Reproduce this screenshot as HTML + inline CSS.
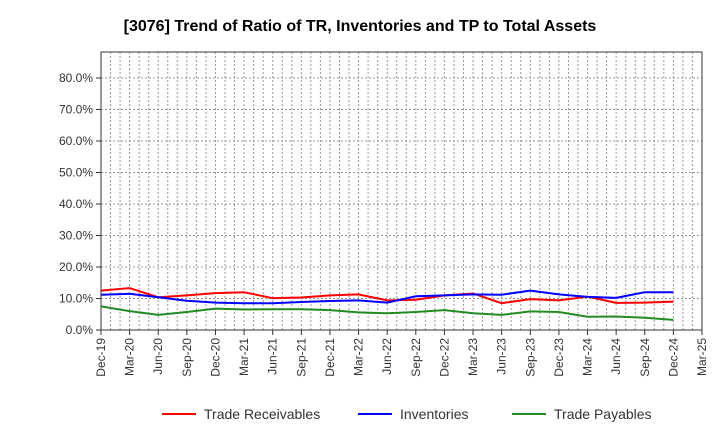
<!DOCTYPE html>
<html><head><meta charset="utf-8"><style>
body{margin:0;background:#fff;font-family:"Liberation Sans",sans-serif;}
</style></head><body>
<svg id="c" width="720" height="440" xmlns="http://www.w3.org/2000/svg">
<text x="360" y="31" text-anchor="middle" font-size="16" font-weight="bold" fill="#000">[3076]  Trend of Ratio of TR, Inventories and TP to Total Assets</text>
<g id="grid"></g><g id="axes"></g><g id="series"></g><g id="legend"></g>
</svg>
<script>
const xLabels=["Dec-19","Mar-20","Jun-20","Sep-20","Dec-20","Mar-21","Jun-21","Sep-21","Dec-21","Mar-22","Jun-22","Sep-22","Dec-22","Mar-23","Jun-23","Sep-23","Dec-23","Mar-24","Jun-24","Sep-24","Dec-24","Mar-25"];
const yTicks=[0,10,20,30,40,50,60,70,80];
const receivables=[12.5,13.3,10.4,11.0,11.7,12.0,10.1,10.3,11.0,11.3,9.4,9.6,11.0,11.6,8.5,9.8,9.4,10.6,8.6,8.7,9.0];
const inventories=[11.2,11.5,10.4,9.3,8.7,8.5,8.5,8.9,9.2,9.4,8.7,10.7,11.0,11.3,11.2,12.5,11.3,10.5,10.2,12.0,12.0];
const payables=[7.5,6.0,4.8,5.7,6.8,6.5,6.6,6.6,6.3,5.6,5.3,5.7,6.3,5.3,4.8,5.9,5.7,4.2,4.3,3.9,3.2];
const NS="http://www.w3.org/2000/svg";
const L=101,R=702,T=52,B=330,yMax=88.25;
const xs=i=>L+(R-L)*i/(xLabels.length-1);
const ys=v=>B-(B-T)*v/yMax;
function mk(tag,attrs,parent){const e=document.createElementNS(NS,tag);for(const k in attrs)e.setAttribute(k,attrs[k]);parent.appendChild(e);return e;}
const grid=document.getElementById('grid'),axes=document.getElementById('axes'),ser=document.getElementById('series'),leg=document.getElementById('legend');
for(let m=1;m<(xLabels.length-1)*3;m++){const x=L+(R-L)*m/((xLabels.length-1)*3);
 const g=mk('line',{x1:x,x2:x,y1:T,y2:B,stroke:'#999','stroke-dasharray':'2,2','stroke-width':1},grid);
 }
yTicks.forEach(v=>{const y=ys(v);
 if(v>0){const g=mk('line',{x1:L,x2:R,y1:y,y2:y,stroke:'#999','stroke-dasharray':'2,2'},grid);
 }
 mk('line',{x1:L-5,x2:L,y1:y,y2:y,stroke:'#333'},axes);
 const t=mk('text',{x:L-8,y:y+4,'text-anchor':'end','font-size':12,fill:'#333'},axes);t.textContent=v.toFixed(1)+'%';
 });
const fr=mk('rect',{x:L,y:T,width:R-L,height:B-T,fill:'none',stroke:'#333'},axes);

xLabels.forEach((s,i)=>{const x=xs(i);mk('line',{x1:x,x2:x,y1:B,y2:B+5,stroke:'#333'},axes);
 const t=mk('text',{x:x+4,y:B+8,'text-anchor':'end','font-size':12,fill:'#333',transform:`rotate(-90 ${x+4} ${B+8})`},axes);t.textContent=s;
 });
const S=[["Trade Receivables",receivables,"#ff0000"],["Inventories",inventories,"#0000ff"],["Trade Payables",payables,"#228b22"]];
const lx=[162,358,512];
S.forEach(([n,d,c],k)=>{const p=mk('polyline',{points:d.map((v,i)=>xs(i)+','+ys(v)).join(' '),fill:'none',stroke:c,'stroke-width':2},ser);
 
 const g=mk('g',{},leg);
 mk('line',{x1:lx[k],x2:lx[k]+34,y1:414,y2:414,stroke:c,'stroke-width':2},g);
 const t=mk('text',{x:lx[k]+42,y:419,'font-size':14,fill:'#333'},g);t.textContent=n;});
</script>
</body></html>
